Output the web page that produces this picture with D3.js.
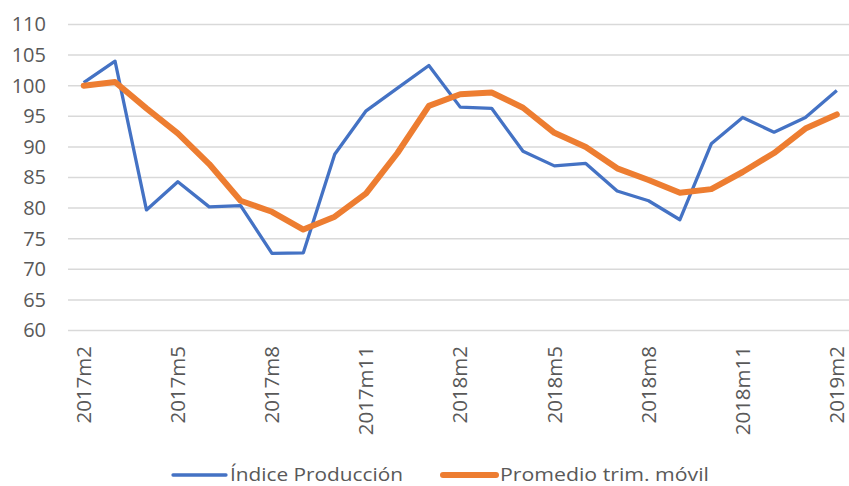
<!DOCTYPE html>
<html>
<head>
<meta charset="utf-8">
<script src="https://cdn.jsdelivr.net/npm/d3@7"></script>
<style>
  body { margin: 0; background: #fff; }
  svg { display: block; font-family: "Open Sans", "Noto Sans", sans-serif; }
</style>
</head>
<body>
<svg id="chart" width="849" height="486"></svg>
<script>
// months shown on the x axis
var months = ['2017m2','2017m3','2017m4','2017m5','2017m6','2017m7','2017m8','2017m9','2017m10','2017m11','2017m12',
  '2018m1','2018m2','2018m3','2018m4','2018m5','2018m6','2018m7','2018m8','2018m9','2018m10','2018m11','2018m12',
  '2019m1','2019m2'];

var indice = [100.5, 104.0, 79.7, 84.3, 80.2, 80.4, 72.6, 72.7, 88.8, 95.9, 99.6,
  103.3, 96.5, 96.3, 89.3, 86.9, 87.3, 82.8, 81.2, 78.1, 90.5, 94.8, 92.4,
  94.8, 99.2];

var promedio = [100.0, 100.6, 96.3, 92.2, 87.2, 81.2, 79.4, 76.5, 78.6, 82.4, 89.0,
  96.7, 98.6, 98.9, 96.4, 92.3, 90.0, 86.5, 84.6, 82.5, 83.1, 85.9, 89.0,
  93.0, 95.3];

var yTicks = [60, 65, 70, 75, 80, 85, 90, 95, 100, 105, 110];

var svg = d3.select('#chart');

var xScale = d3.scaleBand()
  .domain(months)
  .range([68, 852.5])
  .padding(0);

var yScale = d3.scaleLinear()
  .domain([60, 110])
  .range([330.5, 24.5]);

function cx(m) { return xScale(m) + xScale.bandwidth() / 2; }

// gridlines
svg.append('g')
  .selectAll('line')
  .data(yTicks)
  .enter()
  .append('line')
  .attr('x1', 68)
  .attr('x2', 849)
  .attr('y1', function(d) { return yScale(d); })
  .attr('y2', function(d) { return yScale(d); })
  .attr('stroke', '#d9d9d9')
  .attr('stroke-width', 1.5);

// y axis labels
var yAxis = svg.append('g')
  .attr('transform', 'translate(46,0)')
  .call(d3.axisLeft(yScale).tickValues(yTicks).tickSize(0).tickPadding(0));
yAxis.select('.domain').remove();
yAxis.selectAll('text')
  .attr('font-size', 20)
  .attr('font-family', '"Open Sans", sans-serif')
  .attr('fill', '#595959');

// x axis labels, every third month
var xAxis = svg.append('g')
  .attr('transform', 'translate(0,346)')
  .call(d3.axisBottom(xScale)
    .tickValues(months.filter(function(d, i) { return i % 3 === 0; }))
    .tickSize(0).tickPadding(0));
xAxis.select('.domain').remove();
xAxis.selectAll('text')
  .attr('font-size', 20.5)
  .attr('font-family', '"Open Sans", sans-serif')
  .attr('fill', '#595959')
  .attr('transform', 'rotate(-90)')
  .attr('text-anchor', 'end')
  .attr('dy', '0.35em')
  .attr('x', 0)
  .attr('y', 0);

// lines
var line = d3.line()
  .x(function(d, i) { return cx(months[i]); })
  .y(function(d) { return yScale(d); });

svg.append('path')
  .datum(indice)
  .attr('d', line)
  .attr('fill', 'none')
  .attr('stroke', '#4472c4')
  .attr('stroke-width', 3.3)
  .attr('stroke-linejoin', 'round');

svg.append('path')
  .datum(promedio)
  .attr('d', line)
  .attr('fill', 'none')
  .attr('stroke', '#ed7d31')
  .attr('stroke-width', 6)
  .attr('stroke-linejoin', 'round')
  .attr('stroke-linecap', 'round');

// legend
var legend = [
  { name: 'Índice Producción', color: '#4472c4', x: 173, w: 3.3, tl: 173 },
  { name: 'Promedio trim. móvil', color: '#ed7d31', x: 443, w: 6, tl: 209 }
];
var lg = svg.append('g').selectAll('g').data(legend).enter().append('g');
lg.append('line')
  .attr('x1', function(d) { return d.x; })
  .attr('x2', function(d) { return d.x + 53; })
  .attr('y1', 475)
  .attr('y2', 475)
  .attr('stroke', function(d) { return d.color; })
  .attr('stroke-width', function(d) { return d.w; })
  .attr('stroke-linecap', 'round');
lg.append('text')
  .attr('x', function(d) { return d.x + 57; })
  .attr('y', 481)
  .attr('font-size', 18.5)
  .attr('fill', '#595959')
  .attr('textLength', function(d) { return d.tl; })
  .attr('lengthAdjust', 'spacingAndGlyphs')
  .text(function(d) { return d.name; });
</script>
</body>
</html>
